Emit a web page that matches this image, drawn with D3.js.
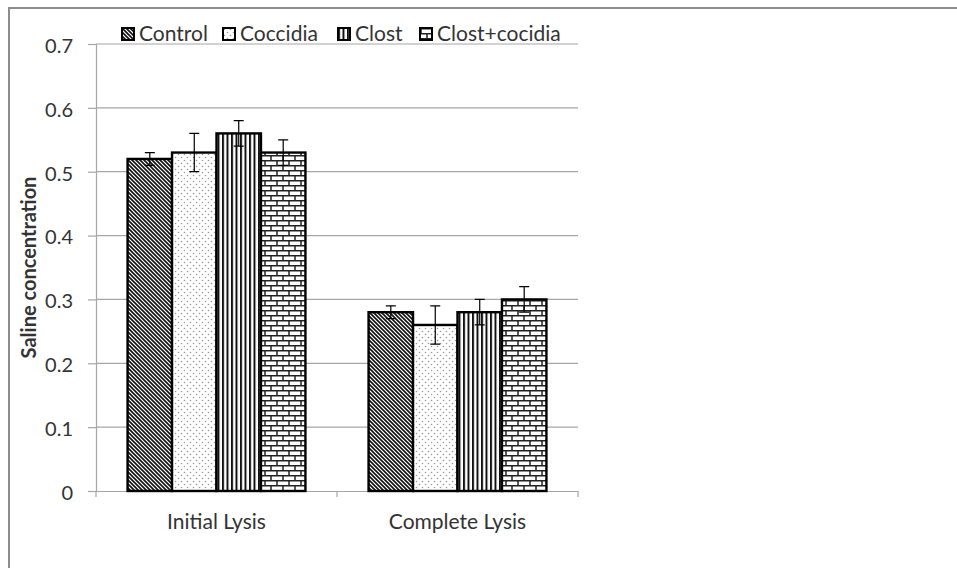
<!DOCTYPE html>
<html><head><meta charset="utf-8">
<script src="https://cdn.jsdelivr.net/npm/d3@7"></script>
<style>
html,body{margin:0;padding:0;background:#fff;}
text{font-family:Lato,"Open Sans",sans-serif;fill:#333;}
</style></head>
<body><svg id="c" width="957" height="568"></svg>
<script>
const categories = ["Initial Lysis", "Complete Lysis"];
const seriesNames = ["Control", "Coccidia", "Clost", "Clost+cocidia"];
const controlVals = [0.52, 0.28];
const coccidiaVals = [0.53, 0.26];
const clostVals = [0.56, 0.28];
const clostCocVals = [0.53, 0.30];
const controlErr = [0.01, 0.01];
const coccidiaErr = [0.03, 0.03];
const clostErr = [0.02, 0.02];
const clostCocErr = [0.02, 0.02];
const yTicks = [0, 0.1, 0.2, 0.3, 0.4, 0.5, 0.6, 0.7];
const yTitle = "Saline concentration";

const seriesVals = [controlVals, coccidiaVals, clostVals, clostCocVals];
const seriesErr = [controlErr, coccidiaErr, clostErr, clostCocErr];
const patIds = ["pDiag", "pDots", "pVert", "pBrick"];

const svg = d3.select("#c");
svg.append("path").attr("d", "M9,568 L9,8 L957,8").attr("fill", "none").attr("stroke", "#8c8c8c").attr("stroke-width", 2);

const defs = svg.append("defs");
let p = defs.append("pattern").attr("id", "pDiag").attr("patternUnits", "userSpaceOnUse").attr("width", 4).attr("height", 4);
p.append("rect").attr("width", 4).attr("height", 4).attr("fill", "#fff");
p.append("path").attr("d", "M-1,-1 L5,5 M-1,3 L1,5 M3,-1 L5,1").attr("stroke", "#111").attr("stroke-width", 1.6);
p = defs.append("pattern").attr("id", "pDots").attr("patternUnits", "userSpaceOnUse").attr("width", 6).attr("height", 6);
p.append("rect").attr("width", 6).attr("height", 6).attr("fill", "#fff");
p.append("circle").attr("cx", 1.5).attr("cy", 1.5).attr("r", 0.8).attr("fill", "#999");
p.append("circle").attr("cx", 4.5).attr("cy", 4.5).attr("r", 0.8).attr("fill", "#999");
p = defs.append("pattern").attr("id", "pVert").attr("patternUnits", "userSpaceOnUse").attr("width", 4.5).attr("height", 5);
p.append("rect").attr("width", 4.5).attr("height", 5).attr("fill", "#fff");
p.append("rect").attr("x", 0).attr("width", 2).attr("height", 5).attr("fill", "#111");
p = defs.append("pattern").attr("id", "pBrick").attr("patternUnits", "userSpaceOnUse").attr("width", 12).attr("height", 10);
p.append("rect").attr("width", 12).attr("height", 10).attr("fill", "#fff");
p.append("path").attr("d", "M0,0.75 H12 M0,5.75 H12 M1,0 V5 M7,5 V10").attr("stroke", "#222").attr("stroke-width", 1.5);

const y = d3.scaleLinear().domain([0, 0.7]).range([491, 44]);
const x0 = d3.scaleBand().domain(categories).range([96, 578]).padding(0);
const x1 = d3.scaleBand().domain(seriesNames).range([0, x0.bandwidth()]).paddingInner(0).paddingOuter(0.71);

svg.append("g").selectAll("line").data(yTicks.filter(d => d > 0)).join("line")
  .attr("x1", 96).attr("x2", 578).attr("y1", d => y(d)).attr("y2", d => y(d))
  .attr("stroke", "#a6a6a6").attr("stroke-width", 1.2);

const ya = svg.append("g").attr("transform", "translate(96,0)")
  .call(d3.axisLeft(y).tickValues(yTicks).tickSize(8).tickPadding(15).tickFormat(d => d === 0 ? "0" : d3.format(".1f")(d)));
ya.select(".domain").attr("stroke", "#a6a6a6").attr("stroke-width", 1.2);
ya.selectAll(".tick line").attr("stroke", "#a6a6a6").attr("stroke-width", 1.2);
ya.selectAll(".tick text").attr("dy", "0.42em").style("font-size", "20px").attr("fill", "#404040").style("font-family", "Lato, sans-serif");

const xa = svg.append("g").attr("transform", "translate(0,491)")
  .call(d3.axisBottom(x0).tickSize(0).tickPadding(23));
xa.select(".domain").attr("stroke", "#a6a6a6").attr("stroke-width", 1.2);
xa.selectAll(".tick text").style("font-size", "21px").attr("fill", "#404040").style("font-family", "Lato, sans-serif");
const bounds = [x0.range()[0], ...categories.map(c => x0(c) + x0.bandwidth())];
svg.append("g").selectAll("line").data(bounds).join("line")
  .attr("x1", d => d).attr("x2", d => d).attr("y1", 491).attr("y2", 497)
  .attr("stroke", "#a6a6a6").attr("stroke-width", 1.2);

const groups = svg.append("g").selectAll("g").data(categories).join("g")
  .attr("transform", c => `translate(${x0(c)},0)`);
groups.each(function (c, ci) {
  const g = d3.select(this);
  seriesNames.forEach((s, si) => {
    const v = seriesVals[si][ci];
    g.append("rect").attr("x", x1(s)).attr("width", x1.bandwidth())
      .attr("y", y(v)).attr("height", y(0) - y(v))
      .attr("fill", `url(#${patIds[si]})`).attr("stroke", "#000").attr("stroke-width", 2.4);
  });
  seriesNames.forEach((s, si) => {
    const v = seriesVals[si][ci], e = seriesErr[si][ci];
    const cx = x1(s) + x1.bandwidth() / 2;
    g.append("path").attr("d", `M${cx},${y(v + e)} V${y(v - e)} M${cx - 5},${y(v + e)} H${cx + 5} M${cx - 5},${y(v - e)} H${cx + 5}`)
      .attr("stroke", "#000").attr("stroke-width", 1.2).attr("fill", "none");
  });
});

svg.append("text").attr("transform", `translate(36,${(y(0) + y(0.7)) / 2}) rotate(-90)`)
  .attr("text-anchor", "middle").style("font-size", "20px").style("font-weight", "bold").attr("fill", "#111").text(yTitle);

const legX = [122, 223, 338, 420];
const lg = svg.append("g").selectAll("g").data(seriesNames).join("g")
  .attr("transform", (d, i) => `translate(${legX[i]},28)`);
lg.append("rect").attr("width", 12).attr("height", 12).attr("fill", (d, i) => `url(#${patIds[i]})`)
  .attr("stroke", "#000").attr("stroke-width", 2);
lg.append("text").attr("x", 17).attr("y", 13).style("font-size", "21px").attr("fill", "#222").text(d => d);
</script></body></html>
